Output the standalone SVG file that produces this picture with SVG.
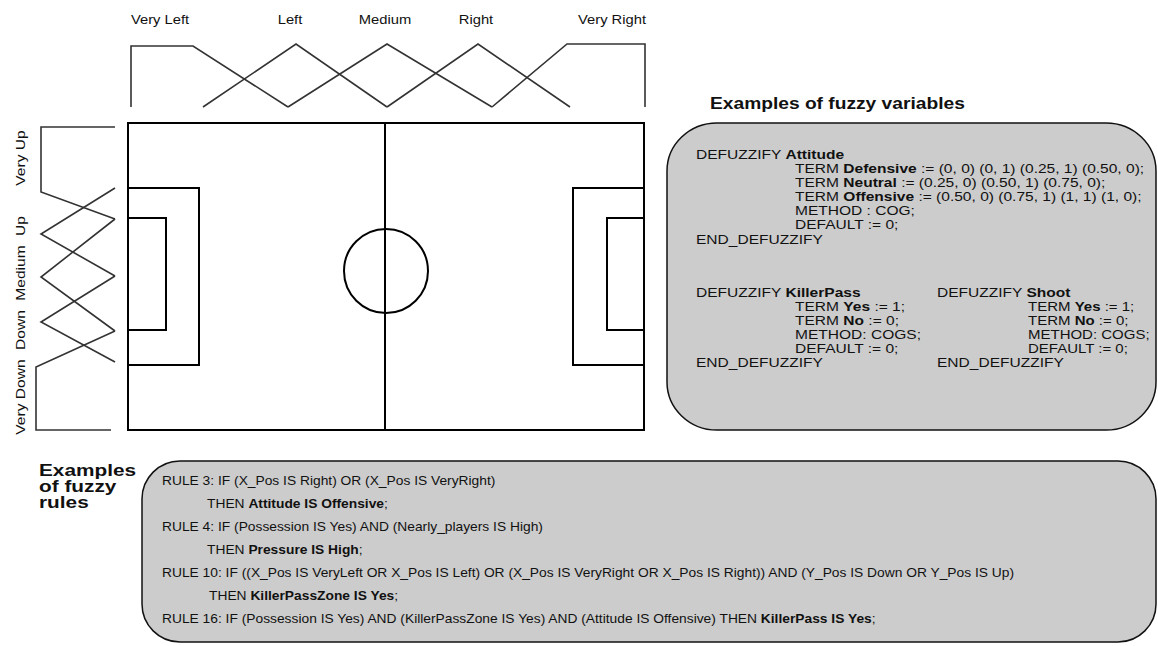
<svg xmlns="http://www.w3.org/2000/svg" width="1158" height="646" viewBox="0 0 1158 646">
<style>
.mf{fill:none;stroke:#333;stroke-width:1.6;stroke-linejoin:miter}
.pitch{fill:none;stroke:#000;stroke-width:2}
.box{fill:#cccccc;stroke:#111;stroke-width:1.5}
.lbl{font-family:"Liberation Sans",Arial,sans-serif;font-size:12.5px;fill:#111}
.side{font-family:"Liberation Sans",Arial,sans-serif;font-size:13px;fill:#111}
.t{font-family:"Liberation Sans",Arial,sans-serif;font-size:12.5px;fill:#111}
.r{font-family:"Liberation Sans",Arial,sans-serif;font-size:12px;fill:#111}
.h{font-family:"Liberation Sans",Arial,sans-serif;font-size:16px;font-weight:bold;fill:#111}
.b{font-weight:bold}
</style>

<g id="x-membership">
<polyline class="mf" points="131,107 131,46 193,46 288,107"/>
<polyline class="mf" points="203,107 296,44 387,107"/>
<polyline class="mf" points="288,107 387,44 492,107"/>
<polyline class="mf" points="387,107 478,44 570,107"/>
<polyline class="mf" points="492,107 567,44 645,44 645,107"/>
<text class="lbl" text-anchor="middle" transform="translate(160,24) scale(1.18,1)">Very Left</text>
<text class="lbl" text-anchor="middle" transform="translate(290,24) scale(1.18,1)">Left</text>
<text class="lbl" text-anchor="middle" transform="translate(385,24) scale(1.18,1)">Medium</text>
<text class="lbl" text-anchor="middle" transform="translate(476,24) scale(1.18,1)">Right</text>
<text class="lbl" text-anchor="middle" transform="translate(612,24) scale(1.18,1)">Very Right</text>
</g>

<g id="y-membership">
<polyline class="mf" points="115,127 41,127 41,192 115,219"/>
<polyline class="mf" points="115,188 41,234 115,276"/>
<polyline class="mf" points="115,219 41,277 115,331"/>
<polyline class="mf" points="115,276 41,322 115,362"/>
<polyline class="mf" points="115,331 36,367 36,430 111,430"/>
<text class="side" text-anchor="middle" transform="translate(25,158) rotate(-90) scale(1.2,1)">Very Up</text>
<text class="side" text-anchor="middle" transform="translate(25,226) rotate(-90) scale(1.2,1)">Up</text>
<text class="side" text-anchor="middle" transform="translate(25,273) rotate(-90) scale(1.2,1)">Medium</text>
<text class="side" text-anchor="middle" transform="translate(25,330) rotate(-90) scale(1.2,1)">Down</text>
<text class="side" text-anchor="middle" transform="translate(25,397) rotate(-90) scale(1.2,1)">Very Down</text>
</g>

<g id="pitch">
<rect class="pitch" x="128" y="123" width="516" height="307"/>
<line class="pitch" x1="385" y1="123" x2="385" y2="430"/>
<circle class="pitch" cx="386" cy="271" r="42"/>
<polyline class="pitch" points="128,188 199,188 199,365 128,365"/>
<polyline class="pitch" points="128,218 166,218 166,330 128,330"/>
<polyline class="pitch" points="644,188 573,188 573,365 644,365"/>
<polyline class="pitch" points="644,218 607,218 607,330 644,330"/>
</g>

<g id="variables">
<text class="h" transform="translate(710,109) scale(1.2,1)">Examples of fuzzy variables</text>
<rect class="box" x="667" y="123" width="489" height="307" rx="50" ry="48"/>
<text class="t" transform="translate(696,159) scale(1.243,1)">DEFUZZIFY <tspan class="b">Attitude</tspan></text>
<text class="t" transform="translate(795,173) scale(1.243,1)">TERM <tspan class="b">Defensive</tspan> := (0, 0) (0, 1) (0.25, 1) (0.50, 0);</text>
<text class="t" transform="translate(795,187) scale(1.243,1)">TERM <tspan class="b">Neutral</tspan> := (0.25, 0) (0.50, 1) (0.75, 0);</text>
<text class="t" transform="translate(795,201) scale(1.243,1)">TERM <tspan class="b">Offensive</tspan> := (0.50, 0) (0.75, 1) (1, 1) (1, 0);</text>
<text class="t" transform="translate(795,215) scale(1.243,1)">METHOD : COG;</text>
<text class="t" transform="translate(795,229) scale(1.243,1)">DEFAULT := 0;</text>
<text class="t" transform="translate(696,244) scale(1.243,1)">END_DEFUZZIFY</text>
<text class="t" transform="translate(696,297) scale(1.243,1)">DEFUZZIFY <tspan class="b">KillerPass</tspan></text>
<text class="t" transform="translate(795,311) scale(1.243,1)">TERM <tspan class="b">Yes</tspan> := 1;</text>
<text class="t" transform="translate(795,325) scale(1.243,1)">TERM <tspan class="b">No</tspan> := 0;</text>
<text class="t" transform="translate(795,339) scale(1.243,1)">METHOD: COGS;</text>
<text class="t" transform="translate(795,353) scale(1.243,1)">DEFAULT := 0;</text>
<text class="t" transform="translate(696,367) scale(1.243,1)">END_DEFUZZIFY</text>
<text class="t" transform="translate(937,297) scale(1.243,1)">DEFUZZIFY <tspan class="b">Shoot</tspan></text>
<text class="t" transform="translate(1028,311) scale(1.2,1)">TERM <tspan class="b">Yes</tspan> := 1;</text>
<text class="t" transform="translate(1028,325) scale(1.2,1)">TERM <tspan class="b">No</tspan> := 0;</text>
<text class="t" transform="translate(1028,339) scale(1.2,1)">METHOD: COGS;</text>
<text class="t" transform="translate(1028,353) scale(1.2,1)">DEFAULT := 0;</text>
<text class="t" transform="translate(937,367) scale(1.243,1)">END_DEFUZZIFY</text>
</g>

<g id="rules">
<text class="h" transform="translate(39,476) scale(1.3,1)">Examples</text>
<text class="h" transform="translate(39,492) scale(1.3,1)">of fuzzy</text>
<text class="h" transform="translate(39,508) scale(1.3,1)">rules</text>
<rect class="box" x="142" y="461" width="1014" height="181" rx="38" ry="38"/>
<text class="r" transform="translate(162,485) scale(1.15,1)">RULE 3: IF (X_Pos IS Right) OR (X_Pos IS VeryRight)</text>
<text class="r" transform="translate(207,508) scale(1.15,1)">THEN <tspan class="b">Attitude IS Offensive</tspan>;</text>
<text class="r" transform="translate(162,531) scale(1.15,1)">RULE 4: IF (Possession IS Yes) AND (Nearly_players IS High)</text>
<text class="r" transform="translate(207,554) scale(1.15,1)">THEN <tspan class="b">Pressure IS High</tspan>;</text>
<text class="r" transform="translate(162,577) scale(1.15,1)">RULE 10: IF ((X_Pos IS VeryLeft OR X_Pos IS Left) OR (X_Pos IS VeryRight OR X_Pos IS Right)) AND (Y_Pos IS Down OR Y_Pos IS Up)</text>
<text class="r" transform="translate(209,600) scale(1.15,1)">THEN <tspan class="b">KillerPassZone IS Yes</tspan>;</text>
<text class="r" transform="translate(162,623) scale(1.15,1)">RULE 16: IF (Possession IS Yes) AND (KillerPassZone IS Yes) AND (Attitude IS Offensive) THEN <tspan class="b">KillerPass IS Yes</tspan>;</text>
</g>
</svg>
